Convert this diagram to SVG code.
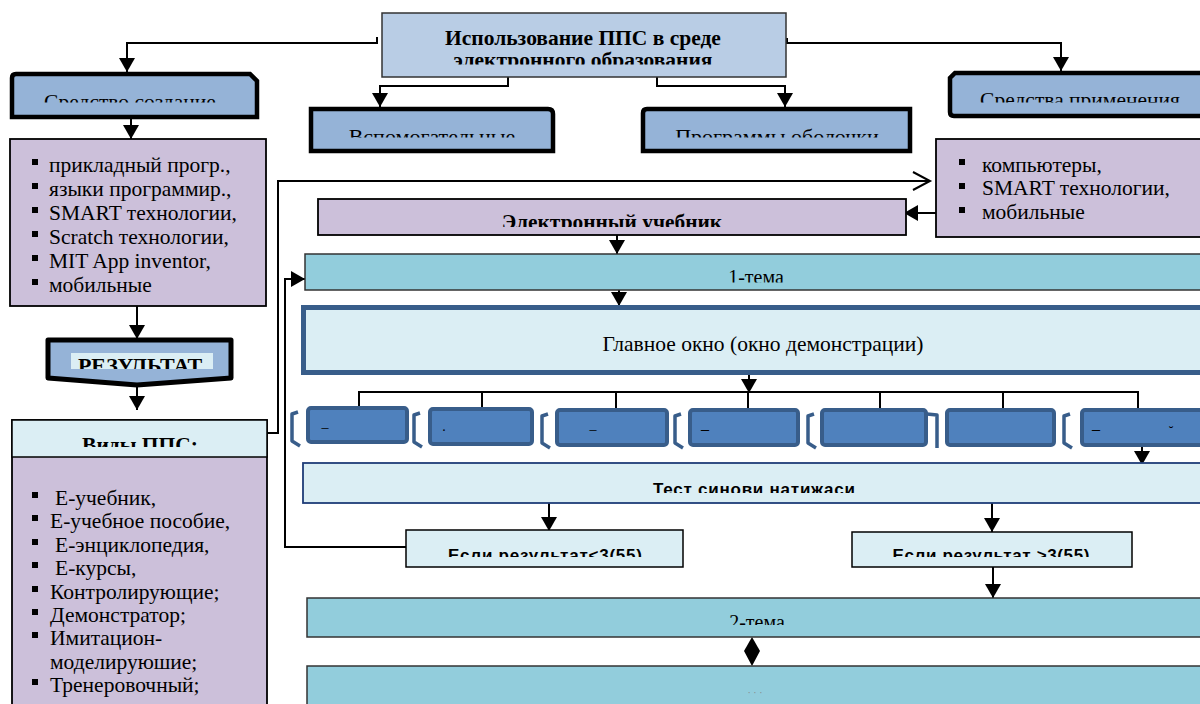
<svg xmlns="http://www.w3.org/2000/svg" width="1200" height="704" viewBox="0 0 1200 704">
<style>
.serif{font-family:"Liberation Serif","Times New Roman",serif;fill:#000}
.sans{font-family:"Liberation Sans",Arial,sans-serif;fill:#000}
.b{font-weight:bold}
.thick{fill:#95b3d7;stroke:#000;stroke-width:4.5}
.purple{fill:#ccc0da;stroke:#000;stroke-width:1.8}
.light{fill:#dbeef4;stroke:#000;stroke-width:1.5}
.teal{fill:#92cddc;stroke:#333;stroke-width:1.5}
.btn{fill:#4f81bd;stroke:#385d8a;stroke-width:4}
.brk{fill:none;stroke:#385d8a;stroke-width:3.5;stroke-linejoin:round}
.con{fill:none;stroke:#000;stroke-width:2}
.bul{fill:#000}
</style>
<defs>
<marker id="ah" viewBox="0 0 14 16" refX="14" refY="8" markerWidth="14" markerHeight="16" markerUnits="userSpaceOnUse" orient="auto">
<path d="M0,0 L14,8 L0,16 Z" fill="#000"/>
</marker>
<clipPath id="c-top"><rect x="382" y="13" width="404" height="51.5"/></clipPath>
<clipPath id="c-sc"><rect x="10" y="72" width="250" height="30.5"/></clipPath>
<clipPath id="c-sp"><rect x="947" y="71" width="260" height="31.5"/></clipPath>
<clipPath id="c-vs"><rect x="309" y="107" width="246" height="30.5"/></clipPath>
<clipPath id="c-po"><rect x="640" y="107" width="272" height="30.5"/></clipPath>
<clipPath id="c-res"><rect x="71" y="353" width="142" height="16"/></clipPath>
<clipPath id="c-vid"><rect x="12" y="420" width="255" height="27"/></clipPath>
<clipPath id="c-eu"><rect x="318" y="199" width="588" height="28"/></clipPath>
<clipPath id="c-t1"><rect x="305" y="254" width="900" height="28.5"/></clipPath>
<clipPath id="c-test"><rect x="303" y="463" width="900" height="30"/></clipPath>
<clipPath id="c-e1"><rect x="406" y="530" width="277" height="27"/></clipPath>
<clipPath id="c-e2"><rect x="852" y="532" width="280" height="25"/></clipPath>
<clipPath id="c-t2"><rect x="307" y="598" width="900" height="27"/></clipPath>
</defs>

<g id="connectors">
<path class="con" d="M377,37 V43 H127 V72" marker-end="url(#ah)" stroke-width="1.8"/>
<path class="con" d="M787,38 V43 H1061 V71" marker-end="url(#ah)" stroke-width="1.8"/>
<path class="con" d="M508,77 V86 H380 V107" marker-end="url(#ah)" stroke-width="1.8"/>
<path class="con" d="M657,77 V86 H785 V107" marker-end="url(#ah)" stroke-width="1.8"/>
<path class="con" d="M131,118 V139" marker-end="url(#ah)"/>
<path class="con" d="M137,306 V339" marker-end="url(#ah)"/>
<path class="con" d="M137,385 V410" marker-end="url(#ah)"/>
<path class="con" d="M267,433 H278 V181 H929" stroke-width="2.2"/>
<path class="con" d="M913,172 L930,181 L913,190" stroke-width="2.2"/>
<path class="con" d="M936,213 H904" marker-end="url(#ah)"/>
<path class="con" d="M617,235 V254" marker-end="url(#ah)"/>
<path class="con" d="M619,290 V306" marker-end="url(#ah)"/>
<path class="con" d="M406,547 H285 V279 H305" marker-end="url(#ah)"/>
<path class="con" d="M749,373 V393" marker-end="url(#ah)"/>
<path class="con" d="M359,408 V392 H1138 V408 M482,392 V408 M616,392 V408 M748,392 V408 M880,392 V408 M1003,392 V408" stroke-width="1.8"/>
<path class="con" d="M1142,445 V465" marker-end="url(#ah)"/>
<path class="con" d="M549,503 V531" marker-end="url(#ah)"/>
<path class="con" d="M992,503 V532" marker-end="url(#ah)"/>
<path class="con" d="M993,567 V598" marker-end="url(#ah)"/>
<polygon points="752,637 760,651 752,666 744,651" fill="#000"/>
</g>

<g id="n-top">
<rect x="382" y="13" width="404" height="64" fill="#b9cde5" stroke="#333" stroke-width="1.5"/>
<g clip-path="url(#c-top)">
<text class="serif b" x="583" y="44.5" font-size="21.5" text-anchor="middle">Использование ППС в среде</text>
<text class="serif b" x="583" y="67" font-size="21.5" text-anchor="middle">электронного образования</text>
</g>
</g>

<g id="n-sredstvo-sozd">
<path class="thick" d="M16,74 H250 L257,81 V117 H12 V78 Q12,74 16,74 Z"/>
<text class="serif" x="130" y="108.5" font-size="21.5" text-anchor="middle" clip-path="url(#c-sc)">Средство создание</text>
</g>

<g id="n-sredstva-prim">
<path class="thick" d="M955,73 H1210 V116 H954 Q950,116 950,112 V78 Z"/>
<text class="serif" x="1080" y="106.5" font-size="21.5" text-anchor="middle" clip-path="url(#c-sp)">Средства применения</text>
</g>

<g id="n-vspom">
<path class="thick" d="M311,109 H548 Q553,109 553,114 V151 H311 Z"/>
<text class="serif" x="432" y="144" font-size="22" text-anchor="middle" clip-path="url(#c-vs)">Вспомогательные</text>
</g>

<g id="n-programmy">
<path class="thick" d="M647,109 H910 V151 H643 V113 Q643,109 647,109 Z"/>
<text class="serif" x="777" y="144" font-size="22" text-anchor="middle" clip-path="url(#c-po)">Программы оболочки</text>
</g>

<g id="n-list-sozd">
<rect class="purple" x="10" y="139" width="256" height="167"/>
<g class="serif" font-size="21.5">
<rect class="bul" x="32" y="159" width="6" height="6"/><text x="49" y="172">прикладный прогр.,</text>
<rect class="bul" x="32" y="183" width="6" height="6"/><text x="49" y="196">языки программир.,</text>
<rect class="bul" x="32" y="207" width="6" height="6"/><text x="49" y="220">SMART технологии,</text>
<rect class="bul" x="32" y="231" width="6" height="6"/><text x="49" y="244">Scratch технологии,</text>
<rect class="bul" x="32" y="255" width="6" height="6"/><text x="49" y="268">MIT App inventor,</text>
<rect class="bul" x="32" y="279" width="6" height="6"/><text x="49" y="292">мобильные</text>
</g>
</g>

<g id="n-rezultat">
<path d="M48,340 H231 V378 L137,385 L48,378 Z" fill="#95b3d7" stroke="#000" stroke-width="5" stroke-linejoin="round"/>
<rect x="71" y="353" width="142" height="16" fill="#dbeef4"/>
<text class="serif b" x="140" y="372.5" font-size="22" text-anchor="middle" clip-path="url(#c-res)">РЕЗУЛЬТАТ</text>
</g>

<g id="n-vidy">
<rect class="purple" x="12" y="420" width="255" height="300"/>
<rect class="light" x="12" y="420" width="255" height="37" stroke-width="1.8"/>
<text class="serif b" x="140" y="452" font-size="21.5" text-anchor="middle" clip-path="url(#c-vid)">Виды ППС:</text>
<g class="serif" font-size="21.5">
<rect class="bul" x="32" y="492" width="6" height="6"/><text x="55" y="505">Е-учебник,</text>
<rect class="bul" x="32" y="515" width="6" height="6"/><text x="50" y="528">Е-учебное пособие,</text>
<rect class="bul" x="32" y="539" width="6" height="6"/><text x="55" y="552">Е-энциклопедия,</text>
<rect class="bul" x="32" y="562" width="6" height="6"/><text x="55" y="575">Е-курсы,</text>
<rect class="bul" x="32" y="586" width="6" height="6"/><text x="50" y="599">Контролирующие;</text>
<rect class="bul" x="32" y="609" width="6" height="6"/><text x="50" y="622">Демонстратор;</text>
<rect class="bul" x="32" y="632" width="6" height="6"/><text x="50" y="645">Имитацион-</text>
<text x="50" y="669">моделируюшие;</text>
<rect class="bul" x="32" y="679" width="6" height="6"/><text x="50" y="692">Тренеровочный;</text>
</g>
</g>

<g id="n-kompyutery">
<rect class="purple" x="936" y="139" width="280" height="98"/>
<g class="serif" font-size="21.5">
<rect class="bul" x="959" y="159" width="6" height="6"/><text x="982" y="172">компьютеры,</text>
<rect class="bul" x="959" y="183" width="6" height="6"/><text x="982" y="195">SMART технологии,</text>
<rect class="bul" x="959" y="207" width="6" height="6"/><text x="982" y="219">мобильные</text>
</g>
</g>

<g id="n-el-uchebnik">
<rect class="purple" x="318" y="199" width="588" height="36" stroke-width="1.5"/>
<text class="serif b" x="612" y="229" font-size="21.4" text-anchor="middle" clip-path="url(#c-eu)">Электронный учебник</text>
</g>

<g id="n-tema1">
<rect class="teal" x="305" y="254" width="910" height="36"/>
<text class="serif" x="756" y="284" font-size="20" text-anchor="middle" clip-path="url(#c-t1)">1-тема</text>
</g>

<g id="n-glavnoe">
<rect x="303.5" y="307.5" width="920" height="65" fill="#dbeef4" stroke="#385d8a" stroke-width="5"/>
<text class="serif" x="763" y="351" font-size="21.5" text-anchor="middle">Главное окно (окно демонстрации)</text>
</g>

<g id="n-buttons">
<path class="brk" d="M298,412 L292,414 V441 L300,446"/>
<rect class="btn" x="308" y="408" width="99" height="34" rx="3"/>
<text class="serif" x="325" y="432" font-size="14" text-anchor="middle">–</text>
<path class="brk" d="M420,413 L414,415 V442 L422,447"/>
<rect class="btn" x="430" y="409" width="102" height="35" rx="3"/>
<text class="serif" x="444" y="431" font-size="14" text-anchor="middle">.</text>
<path class="brk" d="M548,414 L542,416 V443 L550,448"/>
<rect class="btn" x="557" y="410" width="110" height="35" rx="3"/>
<text class="serif" x="593" y="434" font-size="14" text-anchor="middle">–</text>
<path class="brk" d="M681,414 L675,416 V443 L683,448"/>
<rect class="btn" x="690" y="410" width="108" height="35" rx="3"/>
<text class="serif" x="705" y="434" font-size="16" text-anchor="middle">–</text>
<path class="brk" d="M814,414 L808,416 V443 L816,448"/>
<rect class="btn" x="822" y="410" width="104" height="35" rx="3"/>
<path class="brk" d="M927,414 L937,415 V443 L937,448"/>
<rect class="btn" x="947" y="410" width="107" height="35" rx="3"/>
<path class="brk" d="M1070,414 L1064,416 V443 L1072,448"/>
<rect class="btn" x="1082" y="410" width="130" height="35" rx="3"/>
<text class="serif" x="1096" y="434" font-size="16" text-anchor="middle">–</text>
<text class="serif" x="1171" y="436" font-size="14" text-anchor="middle">˘</text>
</g>

<g id="n-test">
<rect x="303" y="463" width="910" height="40" fill="#dbeef4" stroke="#1f3c78" stroke-width="1.8"/>
<text class="sans b" x="754" y="494.5" font-size="17" text-anchor="middle" textLength="202" clip-path="url(#c-test)">Тест синови натижаси</text>
</g>

<g id="n-esli1">
<rect class="light" x="406" y="530" width="277" height="37"/>
<text class="sans b" x="545" y="560.5" font-size="17" text-anchor="middle" textLength="194" clip-path="url(#c-e1)">Если результат&lt;3(55)</text>
</g>

<g id="n-esli2">
<rect class="light" x="852" y="532" width="280" height="35"/>
<text class="sans b" x="991" y="560.5" font-size="17" text-anchor="middle" textLength="197" clip-path="url(#c-e2)">Если результат &gt;3(55)</text>
</g>

<g id="n-tema2">
<rect class="teal" x="307" y="598" width="910" height="39"/>
<text class="serif" x="757" y="629" font-size="20" text-anchor="middle" clip-path="url(#c-t2)">2-тема</text>
</g>

<g id="n-bottom">
<rect class="teal" x="307" y="666" width="910" height="50"/>
<text class="serif" x="755" y="696" font-size="10" text-anchor="middle" style="fill:#888">· · ·</text>
</g>
</svg>
